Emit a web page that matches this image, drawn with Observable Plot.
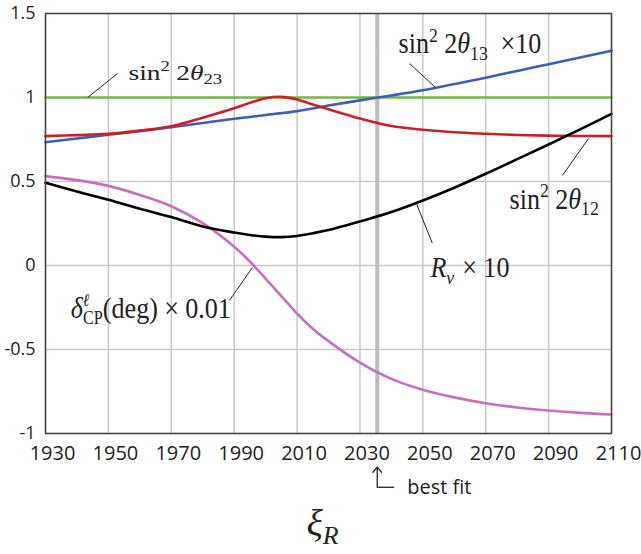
<!DOCTYPE html>
<html><head><meta charset="utf-8">
<script src="https://cdn.jsdelivr.net/npm/d3@7"></script>
<script src="https://cdn.jsdelivr.net/npm/@observablehq/plot@0.6"></script>
<style>
body{margin:0;background:#fff;}
#chart svg{display:block;}
</style></head><body><div id="chart"></div>
<script>
// ---- data ----
const years      = [1930,1940,1950,1960,1970,1980,1990,1995,2000,2005,2010,2015,2020,2030,2040,2050,2060,2070,2080,2090,2100,2110];
const sin2th23   = [1,1,1,1,1,1,1,1,1,1,1,1,1,1,1,1,1,1,1,1,1,1];
const sin2th13x10= [0.734,0.756,0.778,0.800,0.823,0.848,0.873,0.884,0.896,0.907,0.919,0.935,0.952,0.983,1.012,1.043,1.080,1.118,1.158,1.198,1.238,1.278];
const sin2th12   = [0.770,0.776,0.784,0.803,0.829,0.880,0.936,0.968,0.996,1.004,0.988,0.958,0.930,0.875,0.830,0.808,0.793,0.784,0.777,0.773,0.771,0.770];
const Rnu10      = [0.492,0.440,0.391,0.338,0.288,0.232,0.196,0.182,0.172,0.169,0.176,0.192,0.211,0.262,0.318,0.387,0.463,0.546,0.633,0.720,0.810,0.903];
const dCP001     = [0.532,0.508,0.474,0.420,0.353,0.252,0.112,0.024,-0.078,-0.182,-0.286,-0.376,-0.450,-0.578,-0.675,-0.740,-0.785,-0.820,-0.845,-0.863,-0.877,-0.887];
const xTicks = [1930,1950,1970,1990,2010,2030,2050,2070,2090,2110];
const yTicks = [-1,-0.5,0,0.5,1,1.5];
const bestFit = 2035.5;

const series = [
  {key:"th23", values:sin2th23,    color:"#76b843"},
  {key:"th13", values:sin2th13x10, color:"#3f5db2"},
  {key:"th12", values:sin2th12,    color:"#cc2029"},
  {key:"dcp",  values:dCP001,      color:"#c86fbc"},
  {key:"rnu",  values:Rnu10,       color:"#000000"}
];

// label annotations (data coordinates)
const notes = [
  {id:"th23", x:1956.4, y:1.107, x1:1943.4, y1:1.000, x2:1952.9, y2:1.143},
  {id:"th13", x:2042.3, y:1.262, x1:2054.0, y1:1.060, x2:2045.8, y2:1.202},
  {id:"th12", x:2077.6, y:0.339, x1:2102.7, y1:0.756, x2:2094.4, y2:0.536},
  {id:"Rnu",  x:2052.4, y:-0.071, x1:2048.0, y1:0.367, x2:2053.0, y2:0.133},
  {id:"dCP",  x:1938.0, y:-0.310, x1:1995.8, y1:-0.012, x2:1988.5, y2:-0.208}
];

function build(parts, fs) {
  let cur = 0, out = "";
  for (const p of parts) {
    const small = p.k === "sup" || p.k === "sub";
    const target = p.k === "sup" ? -0.4*fs : p.k === "sub" ? 0.22*fs : 0;
    const dy = target - cur; cur = target;
    const size = small ? (p.s || 0.68)*fs : fs;
    out += `<tspan dy="${dy.toFixed(1)}"${p.dx ? ` dx="${p.dx}"` : ""} style="font-size:${size.toFixed(1)}px;font-style:${p.i ? "italic" : "normal"}">${p.t}</tspan>`;
  }
  return out;
}
const markup = {
  th23: {html: build([{t:"sin"},{t:"2",k:"sup"},{t:"2",dx:5},{t:"θ",i:1},{t:"23",k:"sub"}], 22), sx:1.25},
  th13: {html: build([{t:"sin"},{t:"2",k:"sup"},{t:"2",dx:7},{t:"θ",i:1},{t:"13",k:"sub"},{t:"×10",dx:14}], 29), sx:0.9},
  th12: {html: build([{t:"sin"},{t:"2",k:"sup"},{t:"2",dx:7},{t:"θ",i:1},{t:"12",k:"sub"}], 29), sx:0.9},
  Rnu:  {html: build([{t:"R",i:1},{t:"ν",k:"sub",i:1},{t:"×",dx:9},{t:"10",dx:7}], 29), sx:0.9},
  dCP:  {html: build([{t:"δ",i:1},{t:"ℓ",k:"sup",i:1,s:0.6},{t:"CP",k:"sub",dx:-7,s:0.62},{t:"(deg)"},{t:"×",dx:7},{t:"0.01",dx:7}], 29), sx:0.9},
  xiR:  {html: build([{t:"ξ",i:1},{t:"R",k:"sub",i:1}], 38), sx:1}
};

const rows = series.flatMap(s => years.map((yr, i) => ({year: yr, value: s.values[i], key: s.key})));

const plot = Plot.plot({
  width: 641, height: 554,
  marginTop: 13, marginLeft: 45, marginRight: 30, marginBottom: 121,
  style: {fontFamily: "'Open Sans', sans-serif", fontSize: "20px", color: "#222", background: "#fff"},
  x: {domain: [1930, 2110], ticks: xTicks, tickFormat: d => String(d), tickSize: 0, tickPadding: 12, label: null},
  y: {domain: [-1, 1.5], ticks: yTicks, tickFormat: d => String(d), tickSize: 0, tickPadding: 10, label: null},
  marks: [
    Plot.ruleX(xTicks, {stroke: "#c9c9c9", strokeWidth: 1.5}),
    Plot.ruleY(yTicks, {stroke: "#c9c9c9", strokeWidth: 1.5}),
    Plot.ruleX([bestFit], {stroke: "#bcbcbc", strokeWidth: 4}),
    ...series.map(s => Plot.line(rows.filter(r => r.key === s.key), {x: "year", y: "value", stroke: s.color, strokeWidth: 2.6, curve: "catmull-rom"})),
    Plot.link(notes, {x1: "x1", y1: "y1", x2: "x2", y2: "y2", stroke: "#222", strokeWidth: 1}),
    Plot.text(notes, {x: "x", y: "y", text: "id", textAnchor: "start", lineAnchor: "bottom", fontFamily: "'Liberation Serif', serif", fill: "#222"}),
    Plot.frame({stroke: "#444", strokeWidth: 1.5}),
    Plot.arrow([bestFit], {x1: d => d, x2: d => d, y1: () => -1.32, y2: () => -1.2, stroke: "#222", strokeWidth: 1.3, headLength: 8, headAngle: 80}),
    Plot.link([bestFit], {x1: d => d, x2: d => d + 5.4, y1: () => -1.32, y2: () => -1.32, stroke: "#222", strokeWidth: 1.3}),
    Plot.text([bestFit], {x: d => d, frameAnchor: "bottom", text: () => "best fit", dx: 30, dy: 60, textAnchor: "start", lineAnchor: "bottom", fontSize: 20, fill: "#222"}),
    Plot.text(["xiR"], {frameAnchor: "bottom", text: d => d, dx: -6, dy: 102, textAnchor: "middle", lineAnchor: "bottom", fontFamily: "'Liberation Serif', serif", fill: "#222"})
  ]
});

document.getElementById("chart").appendChild(plot);

// rich text (super/subscripts) for math labels
plot.querySelectorAll("text").forEach(el => {
  const m = markup[el.textContent];
  if (!m) return;
  el.innerHTML = m.html;
  if (m.sx !== 1) {
    const tr = el.getAttribute("transform");
    if (tr) el.setAttribute("transform", tr + ` scale(${m.sx},1)`);
    else {
      const x = +el.getAttribute("x") || 0, y = +el.getAttribute("y") || 0;
      el.setAttribute("transform", `translate(${x},${y}) scale(${m.sx},1) translate(${-x},${-y})`);
    }
  }
});
// shift x tick labels slightly right; y tick labels a bit smaller
plot.querySelectorAll('[aria-label^="x-axis"]').forEach(g => {
  const t = g.getAttribute("transform") || "";
  g.setAttribute("transform", t + " translate(7,0)");
});
plot.querySelectorAll('[aria-label^="y-axis"]').forEach(g => { g.style.fontSize = "18px"; });
</script>
</body></html>
